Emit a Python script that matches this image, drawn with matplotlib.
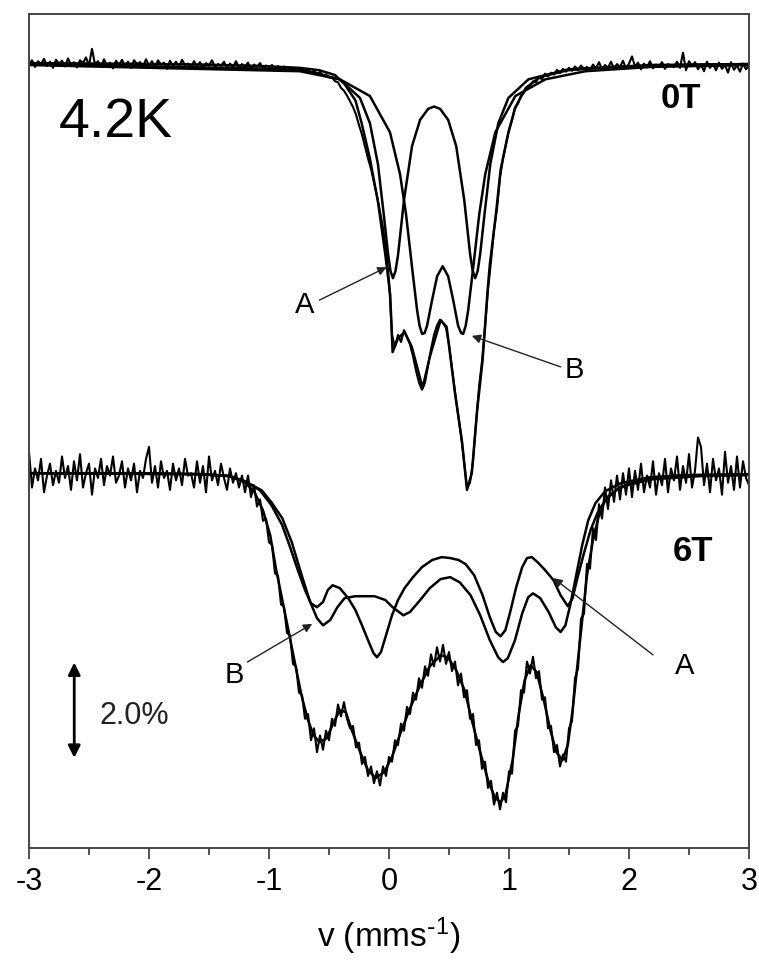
import numpy as np
import matplotlib
matplotlib.use('Agg')
import matplotlib.pyplot as plt

plt.rcParams['font.family'] = ['Liberation Sans', 'DejaVu Sans']
plt.rcParams['axes.unicode_minus'] = False
plt.rcParams['mathtext.default'] = 'regular'

# ---------------- data ----------------
v_min, v_max = -3.0, 3.0   # velocity range of the channels (mm/s)
offset_6T = 8.6            # vertical offset of the 6T spectrum (%)

# 0 T measured spectrum (relative transmission, %), channels evenly spaced in v
data_0T = [99.97, 100.06, 99.92, 100.04, 99.98, 100.09, 99.94, 100.03, 99.90, 100.07,
           99.99, 100.05, 99.93, 100.10, 99.96, 100.02, 99.91, 100.06, 100.00, 100.12,
           99.95, 100.30, 99.97, 100.04, 99.92, 100.08, 99.94, 100.01, 99.89, 100.05,
           99.96, 100.07, 99.93, 100.03, 99.90, 100.06, 99.98, 100.02, 99.92, 100.08,
           99.95, 100.04, 99.91, 100.06, 99.97, 100.01, 99.88, 100.05, 99.94, 100.03,
           99.92, 100.07, 99.96, 99.99, 99.90, 100.04, 99.93, 100.02, 99.89, 100.00,
           99.95, 100.06, 99.91, 99.98, 99.94, 100.03, 99.88, 99.99, 99.92, 100.04,
           99.90, 99.98, 99.93, 100.01, 99.87, 99.97, 99.92, 100.00, 99.89, 99.95,
           99.91, 99.96, 99.88, 99.94, 99.87, 99.93, 99.86, 99.91, 99.85, 99.90,
           99.84, 99.89, 99.82, 99.87, 99.80, 99.84, 99.78, 99.81, 99.75, 99.76,
           99.70, 99.70, 99.62, 99.60, 99.48, 99.42, 99.32, 99.20, 99.08, 98.92,
           98.70, 98.50, 98.25, 98.00, 97.78, 97.50, 97.22, 96.88, 96.55, 96.10,
           95.45, 94.30, 94.05, 94.30, 94.15, 94.40, 94.25, 94.10, 93.85, 93.55,
           93.30, 93.15, 93.30, 93.65, 94.00, 94.30, 94.50, 94.62, 94.55, 94.45,
           94.10, 93.60, 93.10, 92.65, 92.20, 91.65, 91.10, 91.20, 91.65, 92.45,
           93.20, 93.75, 94.45, 95.25, 95.85, 96.50, 96.95, 97.60, 98.00, 98.30,
           98.60, 98.80, 99.05, 99.15, 99.32, 99.38, 99.50, 99.52, 99.62, 99.60,
           99.70, 99.66, 99.78, 99.72, 99.80, 99.76, 99.86, 99.79, 99.88, 99.82,
           99.90, 99.84, 99.93, 99.86, 99.95, 99.88, 99.92, 99.85, 99.97, 99.89,
           100.02, 99.87, 99.96, 99.90, 100.03, 99.88, 99.98, 99.92, 100.05, 99.89,
           99.99, 100.14, 99.93, 100.01, 99.87, 99.99, 99.91, 100.04, 99.89, 99.97,
           99.93, 100.02, 99.88, 99.98, 99.95, 99.92, 100.03, 99.90, 100.22, 99.85,
           100.04, 99.94, 100.02, 99.87, 99.97, 99.83, 100.03, 99.90, 99.98, 99.85,
           100.01, 99.88, 99.96, 99.80, 100.02, 99.86, 99.95, 99.82, 99.99, 99.87,
           99.96]

# 6 T measured spectrum (relative transmission, %), channels evenly spaced in v
data_6T = [100.45, 99.70, 100.10, 99.85, 100.30, 99.60, 99.95, 100.20, 99.75, 100.05,
           99.80, 100.35, 99.90, 100.15, 99.65, 100.25, 99.85, 100.40, 99.70, 100.00,
           100.20, 99.55, 100.10, 99.90, 100.30, 99.75, 100.15, 99.95, 100.35, 99.80,
           99.95, 100.25, 99.70, 100.10, 99.85, 100.20, 99.60, 100.05, 99.90, 100.30,
           100.55, 99.80, 100.15, 99.70, 100.25, 99.90, 100.05, 99.65, 100.20, 99.85,
           100.10, 99.75, 100.30, 99.95, 100.00, 99.70, 100.25, 99.80, 100.15, 99.60,
           100.35, 99.85, 100.05, 99.75, 100.20, 99.90, 99.65, 100.10, 99.80, 100.00,
           99.70, 99.95, 99.60, 99.95, 99.50, 99.75, 99.30, 99.45, 99.00, 99.05,
           98.55, 98.50, 97.90, 97.85, 97.25, 97.20, 96.65, 96.60, 96.00, 95.95,
           95.40, 95.35, 94.85, 94.95, 94.40, 94.65, 94.15, 94.50, 94.20, 94.60,
           94.40, 94.85, 94.70, 95.15, 94.90, 95.20, 94.85, 94.65, 94.70, 94.25,
           94.35, 93.90, 94.05, 93.65, 93.85, 93.50, 93.75, 93.45, 93.85, 93.65,
           94.05, 93.95, 94.40, 94.30, 94.75, 94.60, 95.10, 94.95, 95.40, 95.25,
           95.70, 95.50, 95.95, 95.75, 96.20, 95.95, 96.35, 96.05, 96.40, 96.00,
           96.25, 95.85, 96.05, 95.55, 95.80, 95.30, 95.45, 94.85, 94.95, 94.30,
           94.40, 93.80, 93.95, 93.40, 93.55, 93.05, 93.30, 92.95, 93.30, 93.10,
           93.75, 93.70, 94.60, 94.70, 95.45, 95.40, 96.05, 95.80, 96.15, 95.70,
           95.85, 95.25, 95.30, 94.65, 94.70, 94.15, 94.30, 93.85, 94.10, 93.95,
           94.65, 94.80, 95.70, 95.90, 96.95, 97.05, 98.10, 98.00, 98.85, 98.60,
           99.35, 99.05, 99.70, 99.25, 99.85, 99.40, 99.95, 99.45, 100.00, 99.55,
           100.10, 99.50, 100.05, 99.65, 100.20, 99.60, 99.95, 99.70, 100.25, 99.55,
           100.00, 99.75, 100.30, 99.60, 100.10, 99.85, 100.35, 99.65, 100.15, 99.80,
           100.40, 99.70, 100.05, 100.75, 100.55, 99.75, 100.20, 99.60, 100.30, 99.85,
           100.10, 99.55, 100.45, 99.80, 100.15, 99.65, 100.35, 99.70, 100.25, 99.90,
           99.75]

# 0 T fits
fit0_total_v = [-3.0, -2.41, -1.58, -1.08, -0.74, -0.58, -0.45, -0.37, -0.28, -0.23,
                -0.16, -0.09, -0.03, 0.01, 0.03, 0.075, 0.13, 0.19, 0.28, 0.34,
                0.43, 0.48, 0.55, 0.61, 0.65, 0.69, 0.735, 0.78, 0.82, 0.84,
                0.89, 0.93, 0.99, 1.05, 1.14, 1.26, 1.49, 1.87, 2.43, 3.0]
fit0_total_T = [100.0, 99.99, 99.97, 99.94, 99.90, 99.85, 99.75, 99.56, 99.22, 98.76,
                98.01, 97.06, 95.97, 95.14, 93.94, 94.23, 94.36, 94.05, 93.19, 93.84,
                94.61, 94.47, 93.08, 92.03, 91.05, 91.40, 92.73, 93.77, 95.18, 95.77,
                96.81, 97.76, 98.49, 99.06, 99.48, 99.71, 99.85, 99.92, 99.96, 99.98]

fit0_A_v = [-3.0, -0.744, -0.409, -0.242, -0.159, -0.092, -0.042, -0.008, 0.0125, 0.033,
            0.054, 0.075, 0.125, 0.192, 0.259, 0.326, 0.376, 0.426, 0.493, 0.560,
            0.627, 0.677, 0.698, 0.718, 0.739, 0.760, 0.794, 0.844, 0.911, 0.995,
            1.162, 1.496, 2.18, 3.0]
fit0_A_T = [99.98, 99.87, 99.66, 99.27, 98.74, 97.88, 96.79, 96.00, 95.64, 95.49,
            95.64, 95.97, 97.13, 98.26, 98.81, 99.04, 99.09, 99.04, 98.81, 98.26,
            97.13, 95.97, 95.64, 95.49, 95.64, 96.00, 96.79, 97.88, 98.74, 99.27,
            99.66, 99.87, 99.96, 99.98]

fit0_B_v = [-3.0, -0.744, -0.409, -0.159, 0.008, 0.092, 0.142, 0.192, 0.234, 0.255,
            0.276, 0.297, 0.317, 0.359, 0.401, 0.447, 0.493, 0.535, 0.576, 0.601,
            0.618, 0.639, 0.660, 0.702, 0.752, 0.802, 0.886, 1.053, 1.303, 1.637,
            2.18, 3.0]
fit0_B_T = [99.96, 99.83, 99.66, 99.31, 98.55, 97.67, 96.83, 95.72, 94.82, 94.49,
            94.32, 94.34, 94.49, 95.03, 95.53, 95.74, 95.53, 95.03, 94.49, 94.34,
            94.32, 94.49, 94.82, 95.72, 96.83, 97.67, 98.55, 99.31, 99.66, 99.83,
            99.92, 99.96]

# 6 T fits
fit6_total_v = [-3.0, -2.0, -1.58, -1.33, -1.20, -1.12, -1.05, -0.99, -0.94, -0.88,
                -0.83, -0.78, -0.73, -0.68, -0.63, -0.58, -0.52, -0.46, -0.41, -0.36,
                -0.31, -0.24, -0.175, -0.11, -0.04, 0.025, 0.09, 0.175, 0.26, 0.34,
                0.43, 0.49, 0.56, 0.63, 0.69, 0.76, 0.83, 0.885, 0.93, 0.97,
                1.03, 1.08, 1.13, 1.18, 1.23, 1.29, 1.345, 1.395, 1.445, 1.49,
                1.53, 1.57, 1.61, 1.65, 1.70, 1.75, 1.80, 1.89, 2.01, 2.18,
                2.43, 3.0]
fit6_total_T = [100.0, 100.0, 99.98, 99.94, 99.81, 99.60, 99.22, 98.70, 97.97, 97.23,
                96.60, 95.97, 95.35, 94.86, 94.51, 94.36, 94.44, 94.78, 95.03, 94.99,
                94.61, 94.15, 93.77, 93.61, 93.73, 94.05, 94.51, 95.07, 95.56, 95.95,
                96.18, 96.14, 95.87, 95.45, 94.82, 94.15, 93.52, 93.19, 93.10, 93.25,
                93.98, 94.93, 95.66, 95.97, 95.83, 95.24, 94.61, 94.15, 93.98, 94.30,
                95.03, 95.97, 96.92, 97.86, 98.60, 99.12, 99.43, 99.64, 99.79, 99.90,
                99.96, 99.98]

fit6_A_v = [-3.0, -1.58, -1.33, -1.20, -1.075, -0.98, -0.89, -0.83, -0.76, -0.70,
            -0.65, -0.60, -0.55, -0.51, -0.47, -0.41, -0.34, -0.28, -0.225, -0.175,
            -0.13, -0.10, -0.067, -0.025, 0.025, 0.075, 0.13, 0.20, 0.275, 0.36,
            0.44, 0.51, 0.58, 0.64, 0.71, 0.78, 0.84, 0.89, 0.93, 0.97,
            1.01, 1.06, 1.11, 1.15, 1.19, 1.24, 1.30, 1.37, 1.43, 1.49,
            1.53, 1.57, 1.62, 1.68, 1.74, 1.82, 1.93, 2.18, 2.60, 3.0]
fit6_A_T = [100.0, 99.98, 99.94, 99.83, 99.64, 99.33, 98.91, 98.49, 97.97, 97.55,
            97.27, 97.19, 97.30, 97.55, 97.65, 97.59, 97.38, 97.13, 96.81, 96.50,
            96.23, 96.14, 96.25, 96.60, 97.02, 97.34, 97.59, 97.82, 98.03, 98.18,
            98.24, 98.22, 98.18, 98.09, 97.86, 97.44, 96.98, 96.67, 96.58, 96.71,
            97.09, 97.61, 98.03, 98.22, 98.24, 98.13, 97.97, 97.76, 97.44, 97.21,
            97.38, 97.80, 98.28, 98.81, 99.18, 99.50, 99.71, 99.87, 99.94, 99.96]

fit6_B_v = [-3.0, -1.58, -1.33, -1.20, -1.06, -0.98, -0.89, -0.81, -0.73, -0.66,
            -0.60, -0.55, -0.49, -0.43, -0.37, -0.28, -0.20, -0.12, -0.03, 0.03,
            0.12, 0.175, 0.26, 0.34, 0.43, 0.51, 0.59, 0.68, 0.76, 0.84,
            0.91, 0.95, 0.99, 1.05, 1.11, 1.16, 1.20, 1.26, 1.33, 1.39,
            1.43, 1.47, 1.51, 1.56, 1.61, 1.66, 1.72, 1.80, 1.93, 2.18, 3.0]
fit6_B_T = [100.0, 99.98, 99.94, 99.83, 99.64, 99.39, 99.06, 98.55, 97.88, 97.32,
            96.96, 96.81, 96.92, 97.19, 97.38, 97.42, 97.42, 97.42, 97.34, 97.19,
            97.02, 97.09, 97.34, 97.59, 97.78, 97.82, 97.71, 97.44, 97.02, 96.50,
            96.14, 96.04, 96.12, 96.50, 97.06, 97.40, 97.48, 97.38, 97.09, 96.77,
            96.67, 96.81, 97.23, 97.86, 98.49, 99.01, 99.37, 99.62, 99.79, 99.92, 99.98]

x_ticks = [-3, -2, -1, 0, 1, 2, 3]
x_tick_labels = ['-3', '-2', '-1', '0', '1', '2', '3']

# ---------------- figure ----------------
fig = plt.figure(figsize=(7.59, 9.69), dpi=100)
ax = fig.add_axes([29 / 759, 121 / 969, 720 / 759, 834 / 969])

v0 = np.linspace(v_min, v_max, len(data_0T))
v6 = np.linspace(v_min, v_max, len(data_6T))
lw_fit = 1.8
lw_dat = 1.5
col = 'black'

# 0 T
ax.plot(v0, data_0T, color=col, lw=lw_dat)
ax.plot(fit0_total_v, fit0_total_T, color=col, lw=lw_fit)
ax.plot(fit0_A_v, fit0_A_T, color=col, lw=lw_fit)
ax.plot(fit0_B_v, fit0_B_T, color=col, lw=lw_fit)

# 6 T (offset)
ax.plot(v6, np.array(data_6T) - offset_6T, color=col, lw=lw_dat)
ax.plot(fit6_total_v, np.array(fit6_total_T) - offset_6T, color=col, lw=lw_fit)
ax.plot(fit6_A_v, np.array(fit6_A_T) - offset_6T, color=col, lw=lw_fit)
ax.plot(fit6_B_v, np.array(fit6_B_T) - offset_6T, color=col, lw=lw_fit)

ax.set_xlim(v_min, v_max)
ax.set_ylim(83.54, 101.03)

# annotations
arr = dict(arrowstyle='-|>', color='#222222', lw=1.0, mutation_scale=13,
           shrinkA=0, shrinkB=0)
lab_fs = 21
ax.annotate('', xy=(-0.02, 95.72), xytext=(-0.58, 95.03), arrowprops=arr)
ax.text(-0.70, 94.93, 'A', fontsize=lab_fs, ha='center', va='center')
ax.annotate('', xy=(0.69, 94.28), xytext=(1.43, 93.63), arrowprops=arr)
ax.text(1.545, 93.56, 'B', fontsize=lab_fs, ha='center', va='center')
ax.annotate('', xy=(1.37, 89.20), xytext=(2.20, 87.59), arrowprops=arr)
ax.text(2.46, 87.36, 'A', fontsize=lab_fs, ha='center', va='center')
ax.annotate('', xy=(-0.64, 88.24), xytext=(-1.18, 87.44), arrowprops=arr)
ax.text(-1.287, 87.17, 'B', fontsize=lab_fs, ha='center', va='center')

ax.annotate('', xy=(-2.623, 87.43), xytext=(-2.623, 85.43),
            arrowprops=dict(arrowstyle='<|-|>', color='black', lw=2.0,
                            mutation_scale=18, shrinkA=0, shrinkB=0))
ax.text(-2.41, 86.31, '2.0%', fontsize=22, ha='left', va='center', color='#222222')

ax.text(-2.75, 98.45, '4.2K', fontsize=40, ha='left', va='baseline')
ax.text(2.43, 99.25, '0T', fontsize=25, fontweight='bold', ha='center', va='center')
ax.text(2.53, 89.75, '6T', fontsize=25, fontweight='bold', ha='center', va='center')

# axes styling
ax.set_yticks([])
ax.set_xticks(x_ticks)
ax.set_xticklabels(x_tick_labels)
ax.set_xticks(np.arange(-2.5, 3, 1.0), minor=True)
ax.tick_params(axis='x', which='major', direction='out', length=8, width=1.2,
               labelsize=22, pad=6, color='#333333')
ax.tick_params(axis='x', which='minor', direction='out', length=5, width=1.2,
               color='#333333')
for s in ax.spines.values():
    s.set_linewidth(1.4)
    s.set_color('#444444')
ax.set_xlabel(r'v (mms$^{\text{-}1}$)', fontsize=24, labelpad=13)

fig.savefig('out.png', dpi=100)
